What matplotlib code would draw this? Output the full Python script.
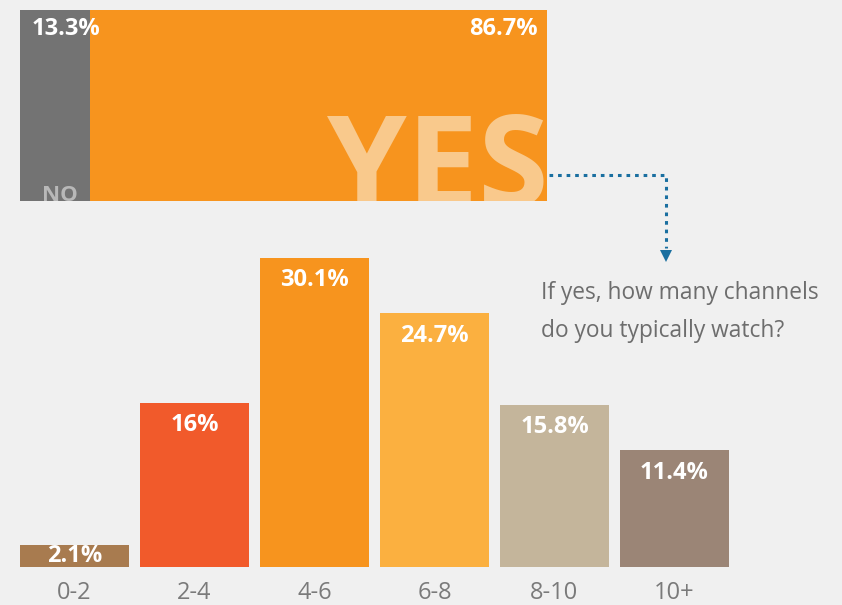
import matplotlib
matplotlib.use("Agg")
import matplotlib.pyplot as plt
from matplotlib.lines import Line2D

# survey data
watch_labels = ["NO", "YES"]
watch_share = [13.3, 86.7]
watch_colors = ["#737373", "#f7941e"]

channel_bins = ["0-2", "2-4", "4-6", "6-8", "8-10", "10+"]
channel_share = [2.1, 16, 30.1, 24.7, 15.8, 11.4]
channel_text = ["2.1%", "16%", "30.1%", "24.7%", "15.8%", "11.4%"]
channel_colors = ["#a87b4f", "#f15a2b", "#f7941e", "#fbb040", "#c4b59b", "#9b8576"]

question = "If yes, how many channels\ndo you typically watch?"

plt.rcParams['font.family'] = ['Open Sans', 'DejaVu Sans']
W, H = 842, 605
bg = "#f0f0f0"
fig = plt.figure(figsize=(W / 100, H / 100), dpi=100, facecolor=bg)

def px(x0, y0, x1, y1):
    # pixel box (top-left origin) -> figure fraction rect
    return [x0 / W, 1 - y1 / H, (x1 - x0) / W, (y1 - y0) / H]

# --- top stacked bar ---
ax1 = fig.add_axes(px(20, 10, 547, 201))
ax1.set_facecolor(bg)
left = 0
for lab, v, c in zip(watch_labels, watch_share, watch_colors):
    ax1.barh(0.5, v, left=left, height=1, color=c, linewidth=0)
    left += v
ax1.set_xlim(0, 100)
ax1.set_ylim(0, 1)
ax1.axis('off')

ax1.text(2.2, 0.9, "%.1f%%" % watch_share[0], color="white", fontsize=17,
         fontweight='bold', ha='left', va='center')
ax1.text(98.2, 0.9, "%.1f%%" % watch_share[1], color="white", fontsize=17,
         fontweight='bold', ha='right', va='center')
ax1.text(watch_share[0] / 2 + 1, 0.0, watch_labels[0], color="#b8b8b8", fontsize=16,
         fontweight='bold', ha='center', va='baseline', clip_on=True)
ax1.text(100.2, -0.03, watch_labels[1], color="#f9c98c", fontsize=92,
         fontweight='bold', ha='right', va='baseline', clip_on=True)

# --- channel bars ---
ax2 = fig.add_axes(px(20, 240, 740, 567))
ax2.set_facecolor(bg)
xs = list(range(len(channel_bins)))
ax2.bar(xs, channel_share, width=0.908, color=channel_colors, linewidth=0)
ax2.set_xlim(-0.454, 5.546)
ax2.set_ylim(0, 327 / 10.27)
for sp in ax2.spines.values():
    sp.set_visible(False)
ax2.set_yticks([])
ax2.set_xticks(xs)
ax2.set_xticklabels(channel_bins, fontsize=17, color="#7a7a7a")
ax2.tick_params(axis='x', length=0, pad=10)
for x, v, t in zip(xs, channel_share, channel_text):
    y = v / 2 if v < 5 else v - 2.2
    ax2.text(x, y, t, color="white", fontsize=17, fontweight='bold',
             ha='center', va='center')

# --- dotted connector with arrow ---
blue = "#1a6fa0"
tr = fig.transFigure
fig.add_artist(Line2D([549 / W, 666 / W, 666 / W], [1 - 175 / H, 1 - 175 / H, 1 - 248 / H],
                      transform=tr, color=blue, linewidth=2.2, linestyle=(0, (1.2, 1.6))))
fig.add_artist(plt.Polygon([[660 / W, 1 - 250 / H], [672 / W, 1 - 250 / H], [666 / W, 1 - 262 / H]],
                           closed=True, transform=tr, color=blue, linewidth=0))

fig.text(541 / W, 1 - 312 / H, question, color="#6d6d6d", fontsize=16.4,
         ha='left', va='center', linespacing=1.75)

fig.savefig("out.png", dpi=100, facecolor=bg)
